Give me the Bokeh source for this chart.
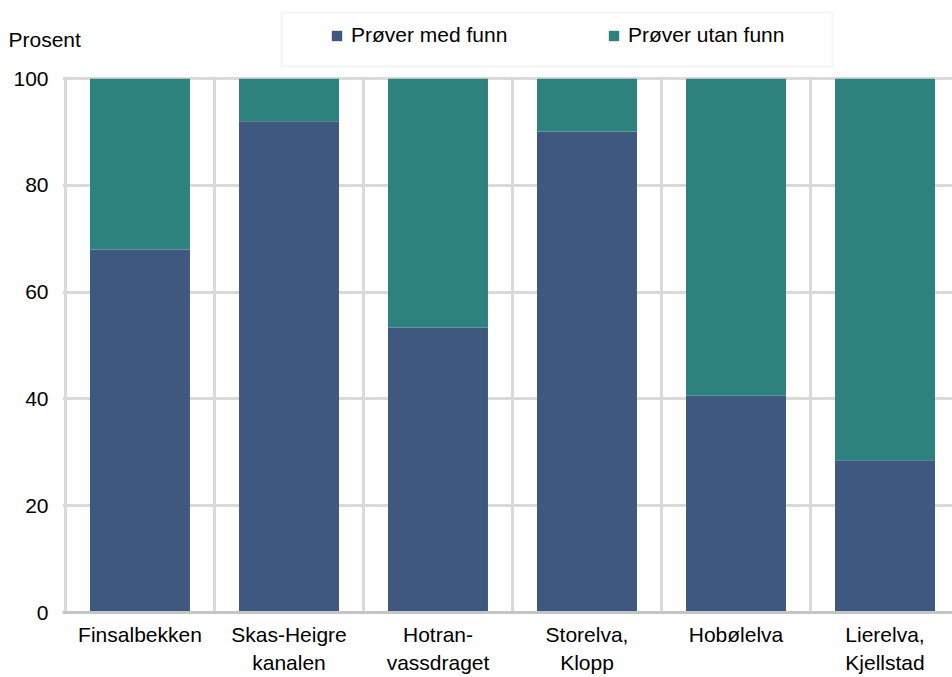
from bokeh.plotting import figure
from bokeh.layouts import column
from bokeh.models import (FixedTicker, Legend, LegendItem, Label, Range1d,
                          ColumnDataSource, BoxAnnotation)
from bokeh.embed import file_html
from bokeh.resources import INLINE

categories = ["Finsalbekken", "Skas-Heigre\nkanalen", "Hotran-\nvassdraget",
              "Storelva,\nKlopp", "Hobølelva", "Lierelva,\nKjellstad"]
med_funn = [68.0, 92.0, 53.4, 90.1, 40.6, 28.5]
utan_funn = [32.0, 8.0, 46.6, 9.9, 59.4, 71.5]
y_ticks = [0, 20, 40, 60, 80, 100]
series_names = ["Prøver med funn", "Prøver utan funn"]
y_title = "Prosent"
colors = ["#3E5880", "#2D827E"]

FONT = "Liberation Sans"
W = 952
HEADER_H = 68
positions = [i + 0.5 for i in range(len(categories))]

source = ColumnDataSource(dict(x=positions, med=med_funn, utan=utan_funn))

# ---------------- header (legend + unit text) ----------------
header = figure(width=W, height=HEADER_H, output_backend="svg", toolbar_location=None,
                x_range=Range1d(0, W), y_range=Range1d(0, HEADER_H),
                x_axis_type=None, y_axis_type=None,
                min_border_left=0, min_border_right=0, min_border_top=0, min_border_bottom=0)
header.outline_line_color = None
header.grid.visible = False

# hidden copies of the series, used only to draw the legend swatches
hidden = header.vbar_stack(["med", "utan"], x="x", width=0.671, color=colors,
                           line_alpha=0, source=source, visible=False)

header.add_layout(BoxAnnotation(left=281, right=832, top=HEADER_H - 12, bottom=HEADER_H - 66,
                                fill_alpha=0, line_color="#d9d9d9", line_width=2))

legend = Legend(items=[LegendItem(label=series_names[0], renderers=[hidden[0]]),
                       LegendItem(label=series_names[1], renderers=[hidden[1]])],
                orientation="horizontal", location=(330, 21),
                border_line_alpha=0, background_fill_alpha=0,
                inactive_fill_alpha=0,
                label_text_font=FONT, label_text_font_size="21px",
                label_text_color="#000000",
                glyph_width=13, glyph_height=13, label_standoff=8,
                padding=0, margin=0, spacing=96, label_width=160)
header.add_layout(legend, "center")

header.add_layout(Label(x=8, y=HEADER_H - 39, x_units="screen", y_units="screen",
                        text=y_title, text_font=FONT, text_font_size="21px",
                        text_color="#000000", text_baseline="alphabetic"))

# ---------------- main chart ----------------
p = figure(width=W, height=677 - HEADER_H, output_backend="svg", toolbar_location=None,
           x_range=Range1d(-0.02, 5.953), y_range=Range1d(0, 100.4),
           min_border_left=62, min_border_right=0, min_border_top=76 - HEADER_H,
           min_border_bottom=0)
p.outline_line_color = None

if "frame_align" in p.properties():
    p.frame_align = False
    header.frame_align = False

rs = p.vbar_stack(["med", "utan"], x="x", width=0.671, color=colors,
                  line_alpha=0, source=source)

p.yaxis.ticker = FixedTicker(ticks=y_ticks)
p.yaxis.axis_line_color = None
p.yaxis.major_tick_line_color = None
p.yaxis.minor_tick_line_color = None
p.yaxis.major_tick_out = 0
p.yaxis.major_tick_in = 0
p.yaxis.major_label_standoff = 14
p.yaxis.major_label_text_font = FONT
p.yaxis.major_label_text_font_size = "21px"
p.yaxis.major_label_text_color = "#000000"

p.xaxis.ticker = FixedTicker(ticks=positions)
p.xaxis.major_label_overrides = {pos: lab for pos, lab in zip(positions, categories)}
p.xaxis.axis_line_color = "#c4c4c4"
p.xaxis.axis_line_width = 3
p.xaxis.major_tick_line_color = None
p.xaxis.minor_tick_line_color = None
p.xaxis.major_tick_out = 0
p.xaxis.major_tick_in = 0
p.xaxis.major_label_standoff = 10
p.xaxis.major_label_text_font = FONT
p.xaxis.major_label_text_font_size = "21px"
p.xaxis.major_label_text_color = "#000000"
p.xaxis.major_label_text_line_height = 1.25

p.xgrid.ticker = FixedTicker(ticks=list(range(len(categories) + 1)))
p.xgrid.grid_line_color = "#d9d9d9"
p.xgrid.grid_line_width = 3
p.ygrid.ticker = FixedTicker(ticks=y_ticks)
p.ygrid.grid_line_color = "#d9d9d9"
p.ygrid.grid_line_width = 3

layout = column(header, p, spacing=0)
open("out.html", "w").write(file_html(layout, INLINE))
